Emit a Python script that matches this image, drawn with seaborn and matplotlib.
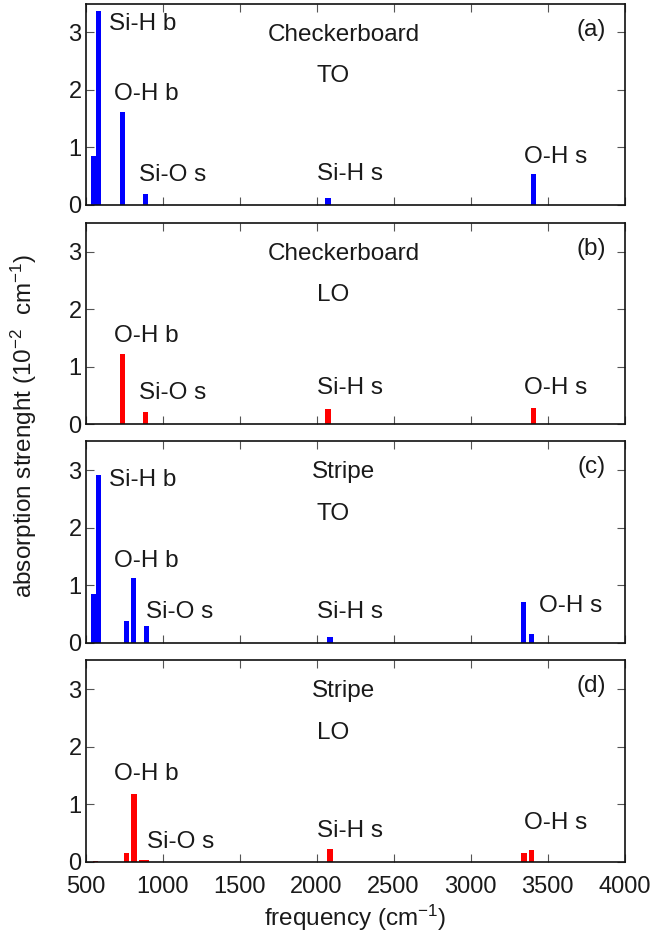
import matplotlib
matplotlib.use('Agg')
import matplotlib.pyplot as plt
import seaborn as sns
import pandas as pd

# frequencies (cm-1) and absorption strengths (10^-2 cm-1) per panel
freq_a = [554, 584, 737, 887, 2074, 3408]
abs_a = [0.85, 3.38, 1.61, 0.19, 0.13, 0.53]
freq_b = [560, 738, 887, 2074, 3410]
abs_b = [0.01, 1.23, 0.21, 0.27, 0.29]
freq_c = [554, 585, 767, 813, 894, 2087, 3345, 3394]
abs_c = [0.85, 2.92, 0.38, 1.12, 0.29, 0.10, 0.71, 0.15]
freq_d = [562, 767, 814, 862, 896, 2087, 3347, 3395]
abs_d = [0.01, 0.15, 1.18, 0.03, 0.03, 0.22, 0.15, 0.21]

panel_tags = ['(a)', '(b)', '(c)', '(d)']
structures = ['Checkerboard', 'Checkerboard', 'Stripe', 'Stripe']
modes = ['TO', 'LO', 'TO', 'LO']
x_ticks = [500, 1000, 1500, 2000, 2500, 3000, 3500, 4000]
y_ticks = [0, 1, 2, 3]

# peak labels: (text, x, y) per panel
labels_a = [('Si-H b', 651, 3.15), ('O-H b', 684, 1.93), ('Si-O s', 846, 0.52),
            ('Si-H s', 2002, 0.54), ('O-H s', 3348, 0.84)]
labels_b = [('O-H b', 684, 1.53), ('Si-O s', 846, 0.55),
            ('Si-H s', 2001, 0.64), ('O-H s', 3348, 0.64)]
labels_c = [('Si-H b', 651, 2.83), ('O-H b', 684, 1.42), ('Si-O s', 892, 0.54),
            ('Si-H s', 2001, 0.54), ('O-H s', 3447, 0.63)]
labels_d = [('O-H b', 684, 1.52), ('Si-O s', 900, 0.35),
            ('Si-H s', 2001, 0.53), ('O-H s', 3350, 0.67)]

sns.set_style('ticks')
plt.rcParams['font.family'] = ['Liberation Sans', 'DejaVu Sans']
plt.rcParams['mathtext.default'] = 'regular'
txt = '#1a1a1a'
fs = 17.5

fig = plt.figure(figsize=(6.51, 9.39), dpi=100)
bottoms = [0.7817, 0.5481, 0.3156, 0.0823]
panels = [(freq_a, abs_a, '#0000ff', labels_a), (freq_b, abs_b, '#ff0000', labels_b),
          (freq_c, abs_c, '#0000ff', labels_c), (freq_d, abs_d, '#ff0000', labels_d)]
bar_w = 34

for i, (fr, ab, col, labs) in enumerate(panels):
    ax = fig.add_axes([0.1316, bottoms[i], 0.8277, 0.2144])
    df = pd.DataFrame({'freq': fr, 'absorption': ab})
    sns.barplot(data=df, x='freq', y='absorption', native_scale=True, color=col,
                saturation=1, errorbar=None, ax=ax, linewidth=0)
    # fixed box width in cm-1
    for p, f in zip(ax.patches, sorted(fr)):
        p.set_x(f - bar_w / 2)
        p.set_width(bar_w)
    ax.set_xlim(500, 4000)
    ax.set_ylim(0, 3.5)
    ax.set_xticks(x_ticks)
    ax.set_yticks(y_ticks)
    ax.set_xlabel('')
    ax.set_ylabel('')
    ax.tick_params(direction='in', length=5.5, width=0.8, top=True, right=True,
                   labelsize=17, colors='#555555', labelcolor=txt)
    ax.tick_params(axis='x', pad=10)
    ax.tick_params(axis='y', pad=3)
    if i < 3:
        ax.tick_params(labelbottom=False)
    for s in ax.spines.values():
        s.set_linewidth(1.2)
        s.set_color('#111111')
    ax.text(3880, 3.05, panel_tags[i], ha='right', va='center', fontsize=fs, color=txt)
    ax.text(2175, 2.96, structures[i], ha='center', va='center', fontsize=fs, color=txt)
    ax.text(2110, 2.24, modes[i], ha='center', va='center', fontsize=fs, color=txt)
    for t, x, y in labs:
        ax.text(x, y, t, ha='left', va='center', fontsize=fs, color=txt)

fig.text(0.037, 0.546, 'absorption strenght (10$^{-2}$  cm$^{-1}$)', rotation=90,
         ha='center', va='center', fontsize=fs, color=txt)
fig.text(0.545, 0.022, 'frequency (cm$^{-1}$)', ha='center', va='center',
         fontsize=fs, color=txt)

fig.savefig('out.png', dpi=100)
